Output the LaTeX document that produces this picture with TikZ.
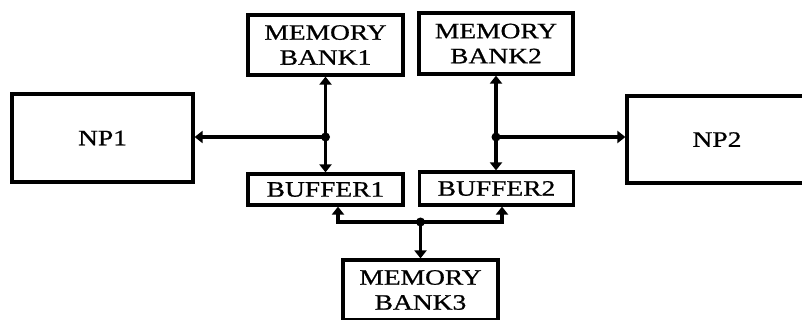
\documentclass[tikz,border=0pt]{standalone}
\usepackage{fontspec}
\newfontfamily\labfont[FakeStretch=1.25,FakeBold=0.8]{Liberation Serif}
\usetikzlibrary{arrows.meta}
\begin{document}
\begin{tikzpicture}[x=1pt,y=-1pt,
  blk/.style={draw=black,line width=3.2pt,inner sep=0pt,align=center,
    font=\labfont\fontsize{22}{25}\selectfont},
  conn/.style={line width=3.2pt,-{Triangle[width=12pt,length=8pt]}},
  bconn/.style={line width=3.2pt,{Triangle[width=12pt,length=8pt]}-{Triangle[width=12pt,length=8pt]}},
  jdot/.style={fill=black,circle,inner sep=0pt,minimum size=9pt}]
\clip (0,0) rectangle (802,320);
\fill[white] (0,0) rectangle (802,320);
\node[blk,minimum width=181pt,minimum height=88pt] (NP1) at (102.5,138) {NP1};
\node[blk,minimum width=180pt,minimum height=87pt] (NP2) at (717,139.5) {NP2};
\node[blk,minimum width=155pt,minimum height=60pt] (MB1) at (325.5,45) {MEMORY\\BANK1};
\node[blk,minimum width=154pt,minimum height=61pt] (MB2) at (496,43.5) {MEMORY\\BANK2};
\node[blk,minimum width=155pt,minimum height=31pt] (BUF1) at (325.5,189.5) {BUFFER1};
\node[blk,minimum width=154pt,minimum height=33pt] (BUF2) at (496.5,188.5) {BUFFER2};
\node[blk,minimum width=155pt,minimum height=60pt] (MB3) at (420.5,290) {MEMORY\\BANK3};
\coordinate (j1) at (325.5,137);
\coordinate (j2) at (496,137);
\coordinate (j3) at (420.5,222);
\draw[bconn] (MB1.south) -- (BUF1.north);
\draw[bconn] (MB2.south) -- (MB2.south |- BUF2.north);
\draw[conn] (j1) -- (j1 -| NP1.east);
\draw[conn] (j2) -- (j2 -| NP2.west);
\draw[conn] (j3) -| ([xshift=12.5pt]BUF1.south);
\draw[conn] (j3) -| ([xshift=5.5pt]BUF2.south);
\draw[conn] (j3) -- (MB3.north);
\node[jdot] at (j1) {};
\node[jdot] at (j2) {};
\node[jdot] at (j3) {};
\end{tikzpicture}
\end{document}
